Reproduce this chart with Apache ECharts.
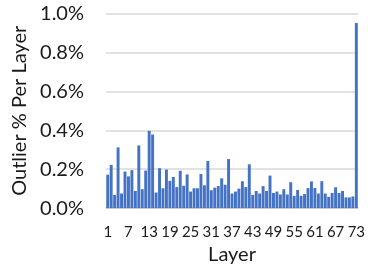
<!DOCTYPE html>
<html>
<head>
<meta charset="utf-8">
<script src="https://cdn.jsdelivr.net/npm/echarts@6/dist/echarts.min.js"></script>
<style>
html, body { margin: 0; padding: 0; background: #fff; }
#main { width: 368px; height: 270px; }
</style>
</head>
<body>
<div id="main"></div>
<script>
// outlier share per layer, in percent
var outlierPct = [
    0.172, 0.222, 0.068, 0.312, 0.075, 0.188, 0.163, 0.195, 0.088, 0.322,
    0.097, 0.193, 0.397, 0.378, 0.080, 0.205, 0.102, 0.198, 0.140, 0.160,
    0.108, 0.192, 0.115, 0.173, 0.085, 0.102, 0.102, 0.175, 0.117, 0.242,
    0.092, 0.105, 0.113, 0.153, 0.120, 0.252, 0.075, 0.085, 0.100, 0.138,
    0.108, 0.225, 0.068, 0.088, 0.075, 0.113, 0.088, 0.167, 0.078, 0.085,
    0.070, 0.097, 0.070, 0.133, 0.063, 0.093, 0.063, 0.072, 0.103, 0.137,
    0.103, 0.075, 0.138, 0.075, 0.058, 0.078, 0.107, 0.078, 0.088, 0.055,
    0.055, 0.060, 0.951
];
var yTicks = [0, 0.2, 0.4, 0.6, 0.8, 1.0];

var layers = [];
for (var i = 0; i < outlierPct.length; i++) {
    layers.push(String(i + 1));
}

function makeimage() {
    var myChart = echarts.init(document.getElementById('main'));
    var font = 'Lato, "Open Sans", sans-serif';
    myChart.setOption({
        animation: false,
        grid: { left: 106, right: 6, top: 13.5, bottom: 59 },
        xAxis: {
            type: 'category',
            data: layers,
            name: 'Layer',
            nameLocation: 'middle',
            nameGap: 33,
            nameTextStyle: { fontFamily: font, fontSize: 20, color: '#1a1a1a' },
            axisLine: { lineStyle: { color: '#d0d0d0', width: 1.5 } },
            axisTick: { show: false },
            axisLabel: { interval: 5, margin: 17, fontFamily: font, fontSize: 15, color: '#1a1a1a' }
        },
        yAxis: {
            type: 'value',
            min: yTicks[0],
            max: yTicks[yTicks.length - 1],
            interval: 0.2,
            name: 'Outlier % Per Layer',
            nameLocation: 'middle',
            nameGap: 76,
            nameTextStyle: { fontFamily: font, fontSize: 20, color: '#1a1a1a' },
            axisLine: { show: false },
            axisTick: { show: false },
            axisLabel: {
                margin: 22,
                fontFamily: font,
                fontSize: 20,
                color: '#1a1a1a',
                formatter: function (v) { return v.toFixed(1) + '%'; }
            },
            splitLine: { lineStyle: { color: '#d9d9d9', width: 1.5 } }
        },
        series: [{
            type: 'bar',
            data: outlierPct,
            barCategoryGap: '15%',
            itemStyle: { color: '#4472C4' }
        }]
    });
}

makeimage();
</script>
</body>
</html>
